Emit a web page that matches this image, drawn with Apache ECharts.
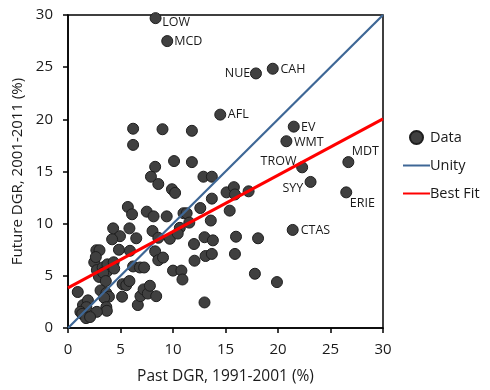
<!DOCTYPE html>
<html>
<head>
<meta charset="utf-8">
<script src="https://cdn.jsdelivr.net/npm/echarts@6/dist/echarts.min.js"></script>
<style>
html,body{margin:0;padding:0;background:#fff;}
#chart{width:490px;height:390px;}
</style>
</head>
<body>
<div id="chart"></div>
<script>
// Unlabelled data points: past DGR (x) and future DGR (y)
const pastDGR = [6.2,9.0,11.8,6.2,8.3,10.1,11.8,7.9,8.6,9.9,10.2,12.9,13.7,13.7,15.1,15.8,15.9,17.2,15.4,13.6,
  13.0,13.8,16.0,18.1,13.1,13.7,15.9,17.8,19.9,13.0,5.7,6.1,7.5,8.15,9.4,11.0,11.3,12.6,11.55,10.65,
  4.3,4.95,4.2,5.85,6.5,8.05,8.6,9.7,10.45,12.0,4.85,5.9,8.3,8.6,9.05,10.0,10.8,10.9,12.05,2.7,
  3.0,2.5,2.65,2.75,2.95,3.3,3.7,3.75,3.35,3.6,4.35,4.4,5.2,5.55,5.85,6.2,6.85,7.25,5.15,6.65,
  6.9,7.2,7.6,7.8,8.4,3.1,3.65,3.9,3.45,3.65,3.7,2.75,0.93,1.43,1.9,1.75,1.18,1.35,1.72,2.1];
const futureDGR = [19.1,19.05,18.9,17.55,15.45,16.0,15.9,14.5,13.8,13.3,12.95,14.5,14.5,12.4,13.0,13.5,12.8,13.1,11.25,10.3,
  8.7,8.4,8.75,8.6,6.9,7.1,7.1,5.2,4.4,2.45,11.6,10.9,11.15,10.7,10.7,11.0,11.0,11.5,10.1,9.6,
  9.55,8.8,8.5,9.55,8.6,9.3,8.65,8.55,9.05,8.05,7.5,7.4,7.35,6.5,6.75,5.5,5.5,4.65,6.45,7.45,
  7.45,6.3,6.8,5.55,4.9,5.8,5.4,6.1,5.3,4.5,6.3,5.7,4.2,4.1,4.5,5.9,5.8,5.8,3.0,2.2,
  3.05,3.7,3.3,4.05,3.05,3.6,3.35,3.0,2.9,2.0,1.65,1.55,3.45,2.2,2.65,2.0,1.55,1.35,0.95,1.05];

// Labelled points
const tickers   = ['LOW','MCD','NUE','CAH','AFL','EV','WMT','MDT','TROW','SYY','ERIE','CTAS'];
const tickerX   = [8.34,9.45,17.9,19.5,14.5,21.5,20.8,26.7,22.3,23.1,26.5,21.4];
const tickerY   = [29.7,27.5,24.4,24.85,20.45,19.3,17.9,15.9,15.4,14.0,13.0,9.4];

// Reference lines
const unityLine   = [[0,0],[30,30]];
const bestFitLine = [[0,3.85],[30,20.05]];

const xTicks = [0,5,10,15,20,25,30];
const yTicks = [0,5,10,15,20,25,30];

// label placement (style only)
const labelPlace = {
  LOW:['left',[6.6,4]], MCD:['left',[7,0.3]], NUE:['right',[-5.7,0]], CAH:['left',[7.7,0.4]],
  AFL:['left',[7.6,0]], EV:['left',[7.3,1.3]], WMT:['left',[7.6,1]], MDT:['left',[3.3,-10.6]],
  TROW:['right',[-5.7,-5.7]], SYY:['right',[-7.2,6.3]], ERIE:['left',[3.6,10.6]], CTAS:['left',[8,0.7]]
};

const FONT = 'Open Sans';
const TXT = '#1a1a1a';

const pts = pastDGR.map((x,i)=>[x,futureDGR[i]]);
const labelled = tickers.map((t,i)=>({
  name:t, value:[tickerX[i],tickerY[i]],
  label:{show:true, formatter:t, position:'inside', align:labelPlace[t][0], verticalAlign:'middle',
         offset:labelPlace[t][1], color:TXT, fontFamily:FONT, fontSize:12.5}
}));

const chart = echarts.init(document.getElementById('chart'), null, {renderer:'canvas'});
chart.setOption({
  animation:false,
  backgroundColor:'#fff',
  grid:{left:68, right:107, top:15, bottom:62, show:true, borderColor:'#000', borderWidth:1.5, backgroundColor:'transparent'},
  xAxis:{
    type:'value', min:xTicks[0], max:xTicks[xTicks.length-1], interval:5,
    name:'Past DGR, 1991-2001 (%)', nameLocation:'middle', nameGap:41,
    nameTextStyle:{color:TXT, fontFamily:FONT, fontSize:15.5},
    axisLine:{show:true, onZero:false, lineStyle:{color:'#000', width:1.5}},
    axisTick:{show:true, inside:false, length:5, lineStyle:{color:'#000', width:1.5}},
    axisLabel:{color:TXT, fontFamily:FONT, fontSize:15, margin:14},
    splitLine:{show:false}
  },
  yAxis:{
    type:'value', min:yTicks[0], max:yTicks[yTicks.length-1], interval:5,
    name:'Future DGR, 2001-2011 (%)', nameLocation:'middle', nameGap:38, nameRotate:90,
    nameTextStyle:{color:TXT, fontFamily:FONT, fontSize:15},
    axisLine:{show:true, onZero:false, lineStyle:{color:'#000', width:1.5}},
    axisTick:{show:true, inside:false, length:5, lineStyle:{color:'#000', width:1.5}},
    axisLabel:{color:TXT, fontFamily:FONT, fontSize:15, margin:15},
    splitLine:{show:false}
  },
  legend:{
    orient:'vertical', left:397, top:125, itemWidth:27, itemHeight:13, itemGap:13,
    textStyle:{color:TXT, fontFamily:FONT, fontSize:14.5, padding:[0,0,0,-5]},
    data:[
      {name:'Data'},
      {name:'Unity', itemStyle:{opacity:0}},
      {name:'Best Fit', itemStyle:{opacity:0}}
    ]
  },
  series:[
    {name:'Data', type:'scatter', symbol:'circle', symbolSize:11, z:2,
     itemStyle:{color:'#404040', borderColor:'#1e1e1e', borderWidth:1, opacity:1},
     data:pts.concat(labelled)},
    {name:'Unity', type:'line', symbol:'none', z:3, data:unityLine,
     lineStyle:{color:'#3e6796', width:2.2}, itemStyle:{color:'#3e6796'}},
    {name:'Best Fit', type:'line', symbol:'none', z:4, data:bestFitLine,
     lineStyle:{color:'#ff0000', width:3}, itemStyle:{color:'#ff0000'}}
  ]
});
</script>
</body>
</html>
